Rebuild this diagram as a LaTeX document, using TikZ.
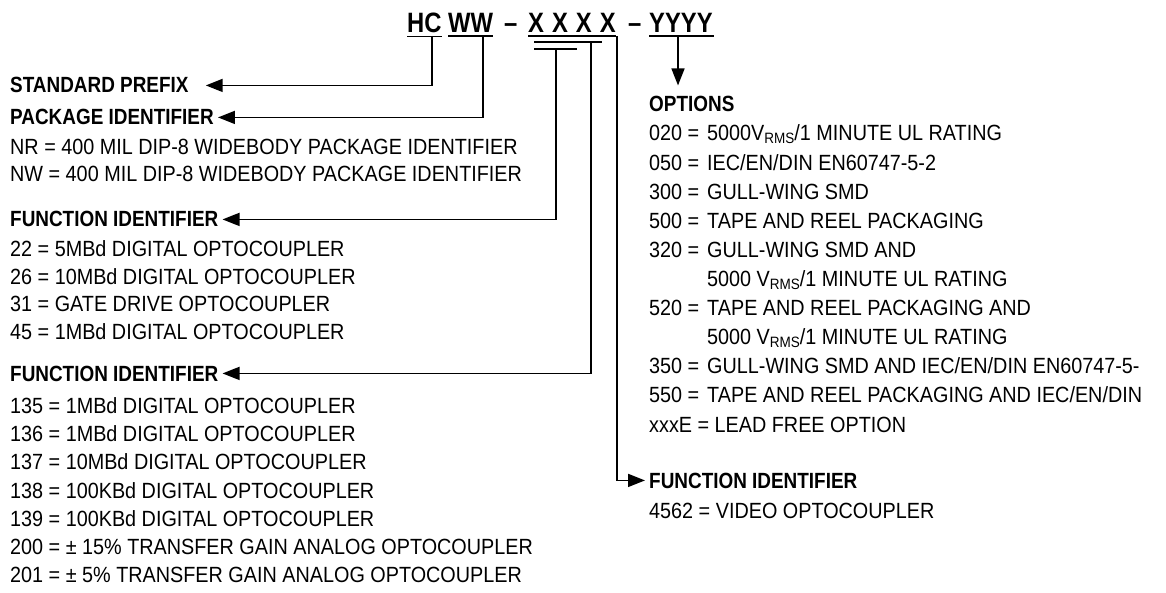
\documentclass[tikz,border=0pt]{standalone}
\usepackage{fontspec}
\setmainfont{Liberation Sans}[FakeStretch=0.9]
\newfontfamily\headf{Liberation Sans}[FakeStretch=0.86]
\newfontfamily\titlef{Liberation Sans}[FakeStretch=0.85]
\usetikzlibrary{arrows.meta,calc}
\newcommand\rms{\raisebox{-3pt}{\fontsize{15}{15}\selectfont RMS}}
\begin{document}
\begin{tikzpicture}[x=1pt,y=-1pt,
  txt/.style={anchor=base west,inner sep=0pt,font=\fontsize{22}{26}\selectfont},
  hd/.style={anchor=base west,inner sep=0pt,font=\headf\bfseries\fontsize{22}{26}\selectfont},
  ttl/.style={anchor=base west,inner sep=0pt,font=\titlef\bfseries\fontsize{28}{32}\selectfont},
  ln/.style={line width=1.6pt},
  arr/.style={ln,-{Triangle[length=17pt,width=13pt]}}]
\useasboundingbox (0,0) rectangle (1166,593);
% title
\node[ttl] (hc) at (407,33) {HC};
\node[ttl] (ww) at (448,33) {WW};
\node[ttl] (d1) at (504,33) {\textendash};
\node[ttl] (xx) at (528,33) {X\hspace{8pt}X\hspace{8pt}X\hspace{8pt}X};
\node[ttl] (d2) at (628,33) {\textendash};
\node[ttl] (yy) at (649,33) {YYYY};
\draw[ln] ([yshift=-3pt]hc.south west) -- ([yshift=-3pt]hc.south east);
\draw[ln] ([yshift=-3pt]ww.south west) -- ([yshift=-3pt]ww.south east);
\draw[ln] ([yshift=-3pt]xx.south west) -- ([yshift=-3pt]xx.south east);
\draw[ln] ([yshift=-3pt]yy.south west) -- ([yshift=-3pt,xshift=1pt]yy.south east);
\coordinate (u2a) at (534,42); \coordinate (u2b) at (602,42);
\coordinate (u3a) at (534,49); \coordinate (u3b) at (577,49);
\draw[ln] (u2a) -- (u2b);
\draw[ln] (u3a) -- (u3b);
\coordinate (tHC) at (432,36);
\coordinate (tWW) at (483,36);
\coordinate (t1) at (556,49);
\coordinate (t2) at (591,42);
\coordinate (t3) at (617,36);
\coordinate (tY) at (678,36);
% left column
\node[hd] (sp) at (10,93) {STANDARD PREFIX};
\node[hd] (pi) at (10,125) {PACKAGE IDENTIFIER};
\node[txt] (nr) at (10,155) {NR = 400 MIL DIP-8 WIDEBODY PACKAGE IDENTIFIER};
\node[txt] (nw) at (10,182) {NW = 400 MIL DIP-8 WIDEBODY PACKAGE IDENTIFIER};
\node[hd] (fa) at (10,227) {FUNCTION IDENTIFIER};
\node[txt] (a1) at (10,257) {22 = 5MBd DIGITAL OPTOCOUPLER};
\node[txt] (a2) at (10,284.5) {26 = 10MBd DIGITAL OPTOCOUPLER};
\node[txt] (a3) at (10,312) {31 = GATE DRIVE OPTOCOUPLER};
\node[txt] (a4) at (10,339.5) {45 = 1MBd DIGITAL OPTOCOUPLER};
\node[hd] (fb) at (10,381) {FUNCTION IDENTIFIER};
\node[txt] (b1) at (10,413) {135 = 1MBd DIGITAL OPTOCOUPLER};
\node[txt] (b2) at (10,441.3) {136 = 1MBd DIGITAL OPTOCOUPLER};
\node[txt] (b3) at (10,469.6) {137 = 10MBd DIGITAL OPTOCOUPLER};
\node[txt] (b4) at (10,498) {138 = 100KBd DIGITAL OPTOCOUPLER};
\node[txt] (b5) at (10,526.2) {139 = 100KBd DIGITAL OPTOCOUPLER};
\node[txt] (b6) at (10,554.5) {200 = \textpm\ 15\% TRANSFER GAIN ANALOG OPTOCOUPLER};
\node[txt] (b7) at (10,582.8) {201 = \textpm\ 5\% TRANSFER GAIN ANALOG OPTOCOUPLER};
% right column
\node[hd] (opt) at (649,112) {OPTIONS};
\node[txt] (o1n) at (649,141) {020 =};   \node[txt] (o1d) at (707,141) {5000V\rms/1 MINUTE UL RATING};
\node[txt] (o2n) at (649,170.1) {050 =}; \node[txt] (o2d) at (707,170.1) {IEC/EN/DIN EN60747-5-2};
\node[txt] (o3n) at (649,199.2) {300 =}; \node[txt] (o3d) at (707,199.2) {GULL-WING SMD};
\node[txt] (o4n) at (649,228.3) {500 =}; \node[txt] (o4d) at (707,228.3) {TAPE AND REEL PACKAGING};
\node[txt] (o5n) at (649,257.4) {320 =}; \node[txt] (o5d) at (707,257.4) {GULL-WING SMD AND};
\node[txt] (o6d) at (707,286.5) {5000 V\rms/1 MINUTE UL RATING};
\node[txt] (o7n) at (649,315.6) {520 =}; \node[txt] (o7d) at (707,315.6) {TAPE AND REEL PACKAGING AND};
\node[txt] (o8d) at (707,344.7) {5000 V\rms/1 MINUTE UL RATING};
\node[txt] (o9n) at (649,373.8) {350 =}; \node[txt] (o9d) at (707,373.8) {GULL-WING SMD AND IEC/EN/DIN EN60747-5-};
\node[txt] (o10n) at (649,402.9) {550 =}; \node[txt] (o10d) at (707,402.9) {TAPE AND REEL PACKAGING AND IEC/EN/DIN};
\node[txt] (o11) at (649,432) {xxxE = LEAD FREE OPTION};
\node[hd] (fc) at (649,488) {FUNCTION IDENTIFIER};
\node[txt] (c1) at (649,518) {4562 = VIDEO OPTOCOUPLER};
% connectors
\draw[arr] (tHC) |- ([xshift=17pt]sp.east);
\draw[arr] (tWW) |- ([xshift=4pt]pi.east);
\draw[arr] (t1) |- ([xshift=4pt]fa.east);
\draw[arr] (t2) |- ([xshift=4pt]fb.east);
\draw[arr] (t3) |- ([xshift=-4pt]fc.west);
\draw[arr,shorten >=11pt] (tY) -- (tY |- opt.north);
\end{tikzpicture}
\end{document}
